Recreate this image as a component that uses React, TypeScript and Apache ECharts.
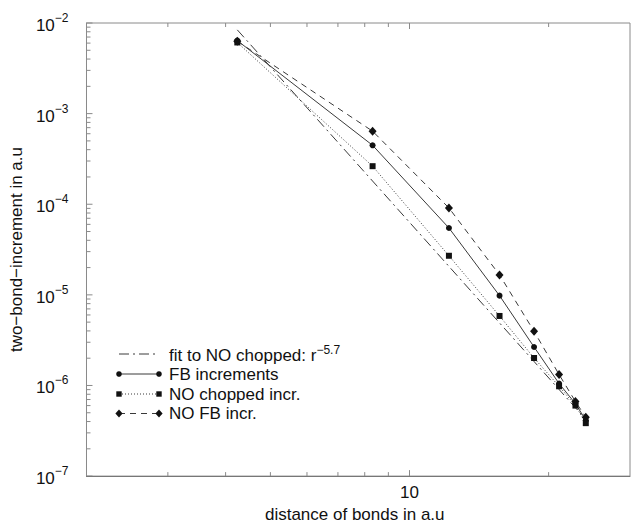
import React, { useEffect, useRef } from "react";
import * as echarts from "echarts";

// ---- data ----
const distances = [4.24, 8.32, 12.17, 15.66, 18.6, 21.07, 22.86, 24.07];
const fbIncrements = [6.4e-3, 4.47e-4, 5.47e-5, 9.8e-6, 2.66e-6, 1.05e-6, 6.3e-7, 4.14e-7];
const noChoppedIncr = [6.1e-3, 2.63e-4, 2.7e-5, 5.85e-6, 2.01e-6, 9.8e-7, 6.0e-7, 3.84e-7];
const noFbIncr = [6.3e-3, 6.4e-4, 9.1e-5, 1.66e-5, 3.96e-6, 1.32e-6, 6.65e-7, 4.46e-7];
const fitDistances = [4.24, 24.1];
const fitValues = [8.4e-3, 4.2e-7];

const yTickExponents = [-7, -6, -5, -4, -3, -2];
const xTickLabels = [10];
const xMinorTicks = [3, 4, 5, 6, 7, 8, 9, 20];
const yMinorMultipliers = [2, 3, 4, 5, 6, 7, 8, 9];

const legendLabels = ["fit to NO chopped: r", "FB increments", "NO chopped incr.", "NO FB incr."];
const fitExponentLabel = "\u22125.7";

const FONT = "'Liberation Sans', Arial, Helvetica, sans-serif";
const LINE = "#3a3a3a";
const MARK = "#111";
const AXIS = "#8a8a8a";
const FS = 17;
const SUP = 12;

export default function App() {
  const ref = useRef<HTMLDivElement>(null);

  useEffect(() => {
    const chart = echarts.init(ref.current!, null, { renderer: "svg" });
    const pairs = (ys: number[]) => distances.map((x, i) => [x, ys[i]]);
    const isPow10 = (v: number) => Math.abs(Math.log10(v) - Math.round(Math.log10(v))) < 1e-6;

    chart.setOption({
      animation: false,
      grid: { left: 80, top: 23, right: -8, bottom: 43, show: true, borderColor: AXIS, borderWidth: 1, backgroundColor: "transparent" },
      xAxis: {
        type: "log",
        logBase: 10,
        min: 2,
        max: 30,
        axisLine: { show: true, lineStyle: { color: "#777", width: 1 } },
        axisTick: { show: false },
        splitLine: { show: false },
        axisLabel: {
          formatter: (v: number) => {
            if (!isPow10(v)) return "";
            const r = Math.round(v);
            return xTickLabels.indexOf(r) >= 0 ? String(r) : "";
          },
          fontSize: FS,
          fontFamily: FONT,
          color: "#111",
          margin: 8,
        },
        name: "distance of bonds in a.u",
        nameLocation: "middle",
        nameGap: 29,
        nameTextStyle: { fontSize: FS, fontFamily: FONT, color: "#111", padding: [0, 7, 0, 0] },
      },
      yAxis: {
        type: "log",
        logBase: 10,
        min: 1e-7,
        max: 1e-2,
        axisLine: { show: true, lineStyle: { color: AXIS, width: 1 } },
        axisTick: { show: false },
        splitLine: { show: false },
        axisLabel: {
          formatter: (v: number) => {
            if (!isPow10(v)) return "";
            const e = Math.round(Math.log10(v));
            if (yTickExponents.indexOf(e) < 0) return "";
            return `{a|10}{b|${e < 0 ? "\u2212" + Math.abs(e) : e}}`;
          },
          margin: 18,
          rich: {
            a: { fontSize: FS, fontFamily: FONT, color: "#111", verticalAlign: "bottom", lineHeight: 22 },
            b: { fontSize: SUP, fontFamily: FONT, color: "#111", verticalAlign: "top", lineHeight: 9 },
          },
        },
        name: "two\u2212bond\u2212increment in a.u",
        nameLocation: "middle",
        nameRotate: 90,
        nameGap: 52,
        nameTextStyle: { fontSize: FS, fontFamily: FONT, color: "#111" },
      },
      series: [
        {
          name: "fit to NO chopped",
          type: "line",
          data: fitDistances.map((x, i) => [x, fitValues[i]]),
          symbol: "none",
          lineStyle: { color: LINE, width: 1, type: [10, 4, 2, 4] },
          emphasis: { disabled: true },
        },
        {
          name: "FB increments",
          type: "line",
          data: pairs(fbIncrements),
          symbol: "circle",
          symbolSize: 6,
          itemStyle: { color: MARK },
          lineStyle: { color: LINE, width: 1, type: "solid" },
          emphasis: { disabled: true },
        },
        {
          name: "NO chopped incr.",
          type: "line",
          data: pairs(noChoppedIncr),
          symbol: "rect",
          symbolSize: 6,
          itemStyle: { color: MARK },
          lineStyle: { color: LINE, width: 1, type: [1, 2] },
          emphasis: { disabled: true },
        },
        {
          name: "NO FB incr.",
          type: "line",
          data: pairs(noFbIncr),
          symbol: "diamond",
          symbolSize: [8, 9],
          itemStyle: { color: MARK },
          lineStyle: { color: LINE, width: 1, type: [6, 5] },
          emphasis: { disabled: true },
        },
      ],
    });

    // ---- ticks (inside, on left, bottom and top edges) from the axes' own scales ----
    const xPix = (v: number) => chart.convertToPixel({ xAxisIndex: 0 }, v) as number;
    const yPix = (v: number) => chart.convertToPixel({ yAxisIndex: 0 }, v) as number;
    const left = xPix(2);
    const top = yPix(1e-2);
    const bottom = yPix(1e-7);
    const graphics: any[] = [];
    const tickStyle = { stroke: AXIS, lineWidth: 1 };
    const addX = (v: number, len: number) => {
      const px = xPix(v);
      graphics.push({ type: "line", silent: true, shape: { x1: px, y1: bottom, x2: px, y2: bottom - len }, style: tickStyle });
      graphics.push({ type: "line", silent: true, shape: { x1: px, y1: top, x2: px, y2: top + len }, style: tickStyle });
    };
    xMinorTicks.forEach((v) => addX(v, 4));
    xTickLabels.forEach((v) => addX(v, 6));
    yTickExponents.forEach((e, i) => {
      const py = yPix(Math.pow(10, e));
      graphics.push({ type: "line", silent: true, shape: { x1: left, y1: py, x2: left + 6, y2: py }, style: tickStyle });
      if (i < yTickExponents.length - 1) {
        yMinorMultipliers.forEach((m) => {
          const pm = yPix(m * Math.pow(10, e));
          graphics.push({ type: "line", silent: true, shape: { x1: left, y1: pm, x2: left + 4, y2: pm }, style: tickStyle });
        });
      }
    });

    // ---- legend (lower left, inside the plot) ----
    const lx1 = 119, lx2 = 159, tx = 169;
    const rows = [354, 374, 394, 413.5];
    const dashes: any[] = [[10, 4, 2, 4], null, [1, 2], [6, 5]];
    const marker = (kind: number, cx: number, cy: number) => {
      if (kind === 1) return { type: "circle", silent: true, shape: { cx, cy, r: 2.8 }, style: { fill: MARK } };
      if (kind === 2) return { type: "rect", silent: true, shape: { x: cx - 2.7, y: cy - 2.7, width: 5.4, height: 5.4 }, style: { fill: MARK } };
      return { type: "polygon", silent: true, shape: { points: [[cx, cy - 4], [cx + 3.6, cy], [cx, cy + 4], [cx - 3.6, cy]] }, style: { fill: MARK } };
    };
    legendLabels.forEach((label, k) => {
      const y = rows[k];
      graphics.push({
        type: "line",
        silent: true,
        shape: { x1: lx1, y1: y, x2: lx2, y2: y },
        style: { stroke: LINE, lineWidth: 1, lineDash: dashes[k] || undefined },
      });
      if (k > 0) {
        graphics.push(marker(k, lx1, y));
        graphics.push(marker(k, lx2, y));
      }
      graphics.push({
        type: "text",
        silent: true,
        x: tx,
        y,
        style: k === 0
          ? {
              text: `{a|${label}}{b|${fitExponentLabel}}`,
              verticalAlign: "middle",
              rich: {
                a: { fontSize: FS, fontFamily: FONT, fill: "#111", verticalAlign: "bottom", lineHeight: 20 },
                b: { fontSize: SUP, fontFamily: FONT, fill: "#111", verticalAlign: "top", lineHeight: 8 },
              },
            }
          : { text: label, fontSize: FS, fontFamily: FONT, fill: "#111", verticalAlign: "middle" },
      });
    });

    chart.setOption({ graphic: graphics });

    return () => chart.dispose();
  }, []);

  return (
    <div
      ref={ref}
      style={{ position: "absolute", left: 0, top: 0, width: 633, height: 528, background: "#fff" }}
    />
  );
}
